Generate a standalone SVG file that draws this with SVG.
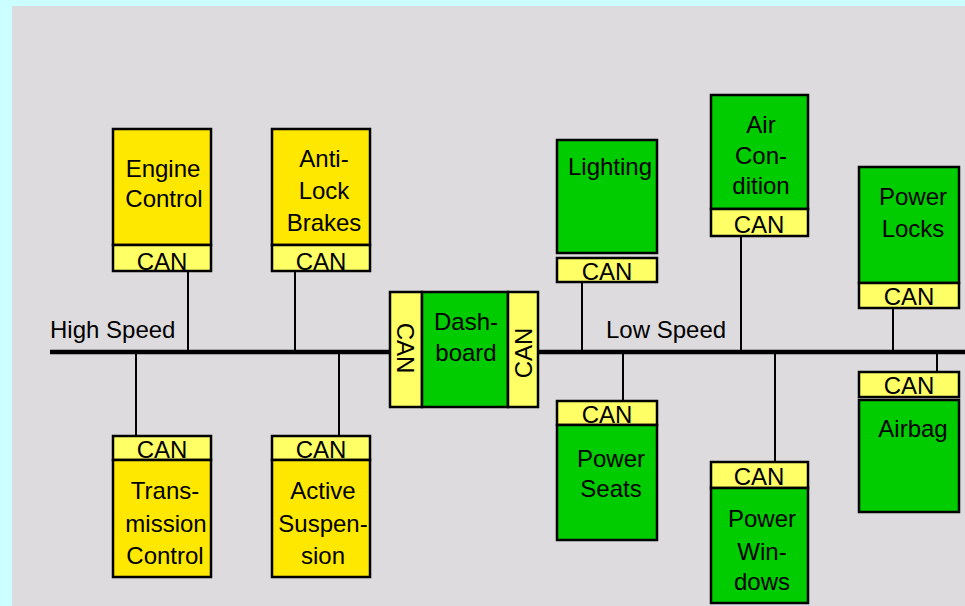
<svg xmlns="http://www.w3.org/2000/svg" width="965" height="606" viewBox="0 0 965 606">
<style>
.t{font-family:"Liberation Sans",Arial,sans-serif;font-size:24px;fill:#000;text-anchor:middle}
.l{font-family:"Liberation Sans",Arial,sans-serif;font-size:24px;fill:#000}
.y{fill:#ffe800;stroke:#000;stroke-width:2.5}
.g{fill:#00cc00;stroke:#000;stroke-width:2.5}
.c{fill:#ffff66;stroke:#000;stroke-width:2.5}
.w{stroke:#000;stroke-width:2;fill:none}
</style>
<rect x="0" y="0" width="965" height="606" fill="#ccffff"/>
<rect x="12" y="6" width="953" height="600" fill="#dddbdd"/>
<g id="connectors">
<line class="w" x1="188" y1="271" x2="188" y2="352"/>
<line class="w" x1="295" y1="271" x2="295" y2="352"/>
<line class="w" x1="136" y1="352" x2="136" y2="436"/>
<line class="w" x1="339" y1="352" x2="339" y2="436"/>
<line class="w" x1="582" y1="282" x2="582" y2="352"/>
<line class="w" x1="741" y1="236" x2="741" y2="352"/>
<line class="w" x1="623" y1="352" x2="623" y2="401"/>
<line class="w" x1="775" y1="352" x2="775" y2="462"/>
<line class="w" x1="893" y1="308" x2="893" y2="352"/>
<line class="w" x1="937" y1="352" x2="937" y2="371"/>
<line x1="50" y1="352" x2="965" y2="352" stroke="#000" stroke-width="4.5"/>
</g>
<text class="l" x="50" y="338">High Speed</text>
<text class="l" x="606" y="338">Low Speed</text>
<g id="engine">
<rect class="y" x="113" y="129" width="98" height="116"/>
<rect class="c" x="113" y="245" width="98" height="26"/>
<text class="t" x="163" y="177">Engine</text>
<text class="t" x="164" y="207">Control</text>
<text class="t" x="162" y="270">CAN</text>
</g>
<g id="abs">
<rect class="y" x="272" y="129" width="98" height="116"/>
<rect class="c" x="272" y="245" width="98" height="26"/>
<text class="t" x="324" y="167">Anti-</text>
<text class="t" x="324" y="199">Lock</text>
<text class="t" x="324" y="231">Brakes</text>
<text class="t" x="321" y="270">CAN</text>
</g>
<g id="transmission">
<rect class="c" x="113" y="436" width="98" height="24"/>
<rect class="y" x="113" y="460" width="98" height="117"/>
<text class="t" x="162" y="458">CAN</text>
<text class="t" x="165" y="499">Trans-</text>
<text class="t" x="166" y="532">mission</text>
<text class="t" x="165" y="564">Control</text>
</g>
<g id="suspension">
<rect class="c" x="272" y="436" width="98" height="24"/>
<rect class="y" x="272" y="460" width="98" height="117"/>
<text class="t" x="321" y="458">CAN</text>
<text class="t" x="323" y="499">Active</text>
<text class="t" x="323" y="532">Suspen-</text>
<text class="t" x="323" y="564">sion</text>
</g>
<g id="dashboard">
<rect class="c" x="390" y="292" width="32" height="115"/>
<rect class="g" x="422" y="292" width="86" height="115"/>
<rect class="c" x="508" y="292" width="30" height="115"/>
<text class="t" x="466" y="330">Dash-</text>
<text class="t" x="466" y="361">board</text>
<text class="t" transform="translate(397 348) rotate(90)">CAN</text>
<text class="t" transform="translate(532 353) rotate(-90)">CAN</text>
</g>
<g id="lighting">
<rect class="g" x="557" y="140" width="100" height="113"/>
<rect class="c" x="557" y="258" width="100" height="24"/>
<text class="t" x="610" y="175">Lighting</text>
<text class="t" x="607" y="280">CAN</text>
</g>
<g id="aircondition">
<rect class="g" x="711" y="95" width="97" height="114"/>
<rect class="c" x="711" y="209" width="97" height="27"/>
<text class="t" x="761" y="133">Air</text>
<text class="t" x="761" y="164">Con-</text>
<text class="t" x="761" y="194">dition</text>
<text class="t" x="759" y="233">CAN</text>
</g>
<g id="powerseats">
<rect class="c" x="557" y="401" width="100" height="24"/>
<rect class="g" x="557" y="425" width="100" height="115"/>
<text class="t" x="607" y="423">CAN</text>
<text class="t" x="611" y="467">Power</text>
<text class="t" x="611" y="497">Seats</text>
</g>
<g id="powerwindows">
<rect class="c" x="711" y="462" width="97" height="26"/>
<rect class="g" x="711" y="488" width="97" height="115"/>
<text class="t" x="759" y="485">CAN</text>
<text class="t" x="762" y="527">Power</text>
<text class="t" x="762" y="560">Win-</text>
<text class="t" x="762" y="590">dows</text>
</g>
<g id="powerlocks">
<rect class="g" x="859" y="167" width="100" height="116"/>
<rect class="c" x="859" y="283" width="100" height="25"/>
<text class="t" x="913" y="205">Power</text>
<text class="t" x="913" y="237">Locks</text>
<text class="t" x="909" y="305">CAN</text>
</g>
<g id="airbag">
<rect class="c" x="859" y="372" width="100" height="25"/>
<rect class="g" x="859" y="400" width="100" height="112"/>
<text class="t" x="909" y="394">CAN</text>
<text class="t" x="913" y="437">Airbag</text>
</g>
</svg>
